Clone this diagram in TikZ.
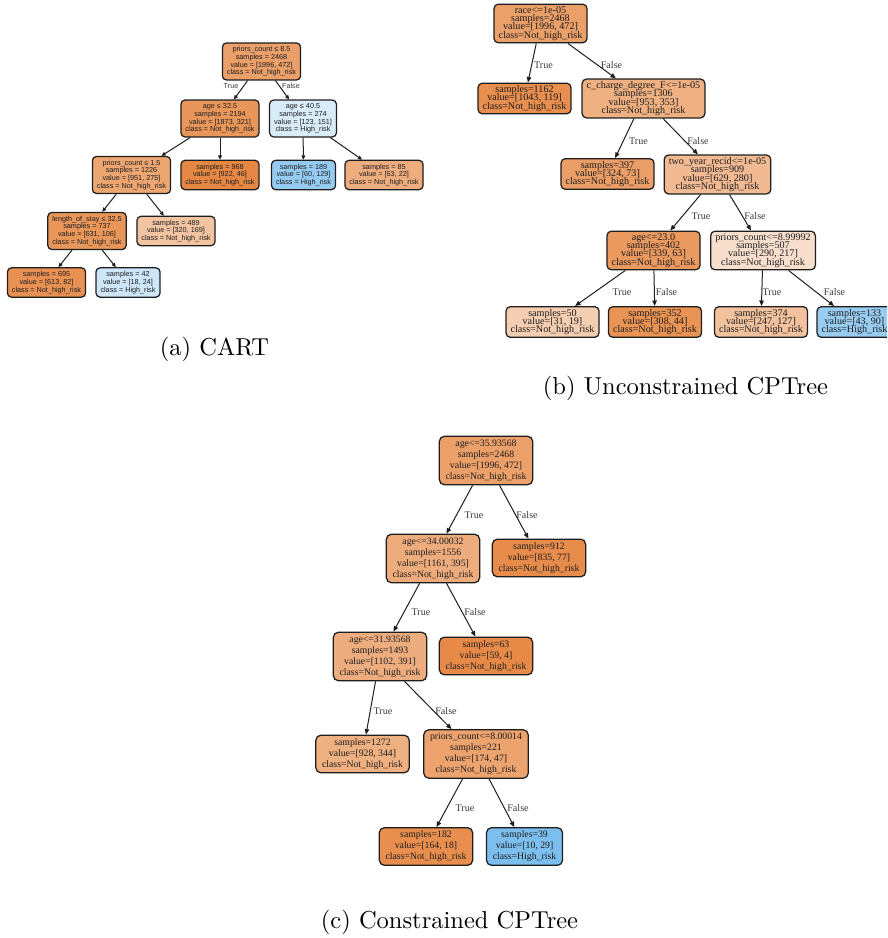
\documentclass[tikz,border=0pt]{standalone}
\usepackage{fontspec}
\usepackage{tikz}
\usetikzlibrary{arrows.meta}
\newfontfamily\cartfont{Liberation Sans}
\newfontfamily\treefont{Liberation Serif}
\definecolor{RiskLow}{RGB}{229,129,57}
\definecolor{RiskHigh}{RGB}{57,157,229}
\definecolor{Ink}{HTML}{1E1E1E}
\definecolor{EdgeInk}{HTML}{3A3A3A}
\setlength{\lineskiplimit}{-5pt}

\begin{document}
\begin{tikzpicture}[x=0.4pt,y=-0.4pt,
    cartbox/.style={draw=Ink,line width=0.5pt,rounded corners=1.6pt,align=center,text=Ink,
      inner xsep=1.8pt,inner ysep=1.4pt,font=\cartfont\fontsize{2.9}{3.1}\selectfont},
    cptbox/.style={draw=Ink,line width=0.5pt,rounded corners=1.8pt,align=center,text=Ink,
      inner xsep=1.85pt,inner ysep=1.0pt,font=\treefont\fontsize{4.05}{3.3}\selectfont},
    conbox/.style={draw=Ink,line width=0.5pt,rounded corners=2pt,align=center,text=Ink,
      inner xsep=2.5pt,inner ysep=1.3pt,font=\treefont\fontsize{3.9}{4.45}\selectfont},
    cartedge/.style={-{Triangle[length=1.7pt,width=1.5pt]},draw=Ink,line width=0.4pt},
    treeedge/.style={-{Triangle[length=2.2pt,width=1.8pt]},draw=Ink,line width=0.4pt},
    cartlabel/.style={text=EdgeInk,inner sep=0pt,font=\cartfont\fontsize{2.9}{3.1}\selectfont},
    treelabel/.style={text=EdgeInk,inner sep=0pt,font=\treefont\fontsize{4.05}{4.5}\selectfont},
    caption/.style={inner sep=0pt,font=\fontsize{9.8}{12}\selectfont}]
  \useasboundingbox (0,0) rectangle (887,938);
  \clip (0,0) rectangle (887,938);

  \node[cartbox,fill=RiskLow!76!white] (cartroot) at (261.5,61.5) {priors\_count ≤ 8.5\\samples = 2468\\value = [1996, 472]\\class = Not\_high\_risk};
  \node[cartbox,fill=RiskLow!83!white] (cartyoung) at (220,118.5) {age ≤ 32.5\\samples = 2194\\value = [1873, 321]\\class = Not\_high\_risk};
  \node[cartbox,fill=RiskHigh!19!white] (cartold) at (303,118.5) {age ≤ 40.5\\samples = 274\\value = [123, 151]\\class = High\_risk};
  \node[cartbox,fill=RiskLow!71!white] (cartpriors) at (131.5,175) {priors\_count ≤ 1.5\\samples = 1226\\value = [951, 275]\\class = Not\_high\_risk};
  \node[cartbox,fill=RiskLow!95!white] (cartleafA) at (220,175) {samples = 968\\value = [922, 46]\\class = Not\_high\_risk};
  \node[cartbox,fill=RiskHigh!53!white] (cartleafB) at (303.5,175) {samples = 189\\value = [60, 129]\\class = High\_risk};
  \node[cartbox,fill=RiskLow!65!white] (cartleafC) at (384,175) {samples = 85\\value = [63, 22]\\class = Not\_high\_risk};
  \node[cartbox,fill=RiskLow!83!white] (cartstay) at (87,231) {length\_of\_stay ≤ 32.5\\samples = 737\\value = [631, 106]\\class = Not\_high\_risk};
  \node[cartbox,fill=RiskLow!47!white] (cartleafD) at (176,231) {samples = 489\\value = [320, 169]\\class = Not\_high\_risk};
  \node[cartbox,fill=RiskLow!87!white] (cartleafE) at (46.5,282.5) {samples = 695\\value = [613, 82]\\class = Not\_high\_risk};
  \node[cartbox,fill=RiskHigh!25!white] (cartleafF) at (128,282.5) {samples = 42\\value = [18, 24]\\class = High\_risk};
  \node[cartlabel] (carttrue) at (231,86) {True};
  \node[cartlabel] (cartfalse) at (291,86) {False};
  \foreach \from/\to in {cartroot/cartyoung,cartroot/cartold,cartyoung/cartpriors,cartyoung/cartleafA,
      cartold/cartleafB,cartold/cartleafC,cartpriors/cartstay,cartpriors/cartleafD,cartstay/cartleafE,cartstay/cartleafF}
    \draw[cartedge] (\from) -- (\to);
  \node[caption] (capcart) at (214.5,349) {(a) CART};

  \node[cptbox,fill=RiskLow!76!white] (cptroot) at (540.5,23.5) {race<=1e-05\\samples=2468\\value=[1996, 472]\\class=Not\_high\_risk};
  \node[cptbox,fill=RiskLow!89!white] (cptleafA) at (524.5,98.5) {samples=1162\\value=[1043, 119]\\class=Not\_high\_risk};
  \node[cptbox,fill=RiskLow!63!white] (cptcharge) at (643.5,98.5) {c\_charge\_degree\_F<=1e-05\\samples=1306\\value=[953, 353]\\class=Not\_high\_risk};
  \node[cptbox,fill=RiskLow!77!white] (cptleafB) at (607.5,174) {samples=397\\value=[324, 73]\\class=Not\_high\_risk};
  \node[cptbox,fill=RiskLow!55!white] (cptrecid) at (717.5,174.5) {two\_year\_recid<=1e-05\\samples=909\\value=[629, 280]\\class=Not\_high\_risk};
  \node[cptbox,fill=RiskLow!81!white] (cptage) at (653.5,250.5) {age<=23.0\\samples=402\\value=[339, 63]\\class=Not\_high\_risk};
  \node[cptbox,fill=RiskLow!25!white] (cptpriors) at (763,250.5) {priors\_count<=8.99992\\samples=507\\value=[290, 217]\\class=Not\_high\_risk};
  \node[cptbox,fill=RiskLow!39!white] (cptleafC) at (552.5,322) {samples=50\\value=[31, 19]\\class=Not\_high\_risk};
  \node[cptbox,fill=RiskLow!86!white] (cptleafD) at (655,322) {samples=352\\value=[308, 44]\\class=Not\_high\_risk};
  \node[cptbox,fill=RiskLow!49!white] (cptleafE) at (761,322) {samples=374\\value=[247, 127]\\class=Not\_high\_risk};
  \node[cptbox,fill=RiskHigh!52!white] (cptleafF) at (854.5,322) {samples=133\\value=[43, 90]\\class=High\_risk};
  \foreach \from/\to in {cptroot/cptleafA,cptroot/cptcharge,cptcharge/cptleafB,cptcharge/cptrecid,cptrecid/cptage,
      cptrecid/cptpriors,cptage/cptleafC,cptage/cptleafD,cptpriors/cptleafE,cptpriors/cptleafF}
    \draw[treeedge] (\from) -- (\to);
  \foreach \x/\y/\txt [count=\k] in {543.5/65/True,611.5/65/False,638.5/141/True,698/141/False,701/216/True,
      755/216/False,622/292/True,666.5/292/False,772/292/True,834.5/292/False}
    \node[treelabel] (cptlabel\k) at (\x,\y) {\txt};
  \node[caption] (capcpt) at (685.5,388) {(b) Unconstrained CPTree};

  \node[conbox,fill=RiskLow!76!white] (conroot) at (486,460.5) {age<=35.93568\\samples=2468\\value=[1996, 472]\\class=Not\_high\_risk};
  \node[conbox,fill=RiskLow!66!white] (conageA) at (433,558.5) {age<=34.00032\\samples=1556\\value=[1161, 395]\\class=Not\_high\_risk};
  \node[conbox,fill=RiskLow!91!white] (conleafA) at (539,558) {samples=912\\value=[835, 77]\\class=Not\_high\_risk};
  \node[conbox,fill=RiskLow!65!white] (conageB) at (380,656.5) {age<=31.93568\\samples=1493\\value=[1102, 391]\\class=Not\_high\_risk};
  \node[conbox,fill=RiskLow!93!white] (conleafB) at (486,656) {samples=63\\value=[59, 4]\\class=Not\_high\_risk};
  \node[conbox,fill=RiskLow!63!white] (conleafC) at (362.5,754) {samples=1272\\value=[928, 344]\\class=Not\_high\_risk};
  \node[conbox,fill=RiskLow!73!white] (conpriors) at (476,754) {priors\_count<=8.00014\\samples=221\\value=[174, 47]\\class=Not\_high\_risk};
  \node[conbox,fill=RiskLow!89!white] (conleafD) at (426,846.5) {samples=182\\value=[164, 18]\\class=Not\_high\_risk};
  \node[conbox,fill=RiskHigh!66!white] (conleafE) at (524.5,846.5) {samples=39\\value=[10, 29]\\class=High\_risk};
  \foreach \from/\to in {conroot/conageA,conroot/conleafA,conageA/conageB,conageA/conleafB,
      conageB/conleafC,conageB/conpriors,conpriors/conleafD,conpriors/conleafE}
    \draw[treeedge] (\from) -- (\to);
  \foreach \x/\y/\txt [count=\k] in {474/515/True,527/515/False,421/612/True,475/612/False,
      383/711/True,446/711/False,465/808/True,518/808/False}
    \node[treelabel] (conlabel\k) at (\x,\y) {\txt};
  \node[caption] (capcon) at (449.5,922) {(c) Constrained CPTree};
\end{tikzpicture}
\end{document}
